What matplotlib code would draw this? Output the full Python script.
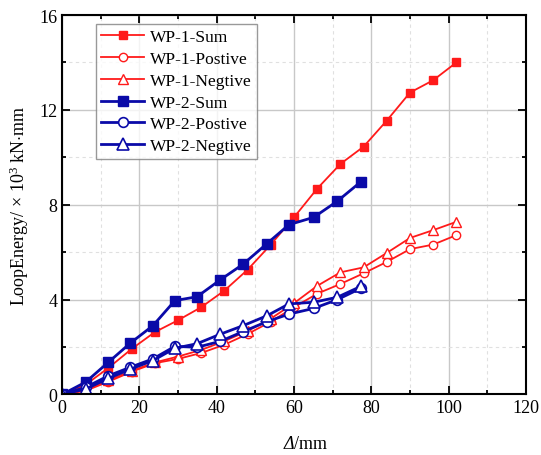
import matplotlib
matplotlib.use('Agg')
import matplotlib.pyplot as plt
from matplotlib.ticker import MultipleLocator

plt.rcParams['font.family'] = ['Liberation Serif', 'DejaVu Serif']
plt.rcParams['mathtext.fontset'] = 'custom'
plt.rcParams['mathtext.rm'] = 'Liberation Serif'
plt.rcParams['mathtext.it'] = 'Liberation Serif:italic'

# displacement steps (mm)
x1 = [0, 6, 12, 18, 24, 30, 36, 42, 48, 54, 60, 66, 72, 78, 84, 90, 96, 102]
x2 = [0, 6.1, 12, 17.7, 23.5, 29.2, 34.9, 40.9, 46.8, 53.0, 58.7, 65.1, 71.2, 77.3]

# loop energy (x10^3 kN*mm)
wp1_sum = [0, 0.4, 1.12, 1.92, 2.63, 3.13, 3.68, 4.38, 5.26, 6.32, 7.47, 8.68, 9.72, 10.45, 11.55, 12.73, 13.25, 14.0]
wp1_pos = [0, 0.15, 0.54, 0.96, 1.32, 1.5, 1.75, 2.1, 2.55, 3.07, 3.68, 4.25, 4.66, 5.11, 5.59, 6.13, 6.32, 6.72]
wp1_neg = [0, 0.2, 0.6, 1.0, 1.35, 1.6, 1.88, 2.25, 2.68, 3.2, 3.85, 4.58, 5.15, 5.36, 5.97, 6.6, 6.93, 7.28]

wp2_sum = [0, 0.52, 1.36, 2.17, 2.9, 3.96, 4.12, 4.83, 5.49, 6.36, 7.16, 7.47, 8.15, 8.97]
wp2_pos = [0, 0.3, 0.79, 1.15, 1.5, 2.03, 1.99, 2.24, 2.65, 3.07, 3.39, 3.63, 4.0, 4.48]
wp2_neg = [0, 0.23, 0.68, 1.07, 1.43, 1.95, 2.14, 2.54, 2.9, 3.32, 3.82, 3.89, 4.1, 4.56]

red = '#ff1a1a'
blue = '#0a0aa8'

fig = plt.figure(figsize=(5.41, 4.56), dpi=100)
ax = fig.add_axes([0.1146, 0.1327, 0.8577, 0.8322])

ax.plot(x1, wp1_sum, color=red, lw=1.3, marker='s', ms=6, mfc=red, mec=red, label='WP-1-Sum')
ax.plot(x1, wp1_pos, color=red, lw=1.3, marker='o', ms=6, mfc='white', mec=red, mew=1.0, label='WP-1-Postive')
ax.plot(x1, wp1_neg, color=red, lw=1.3, marker='^', ms=7, mfc='white', mec=red, mew=1.0, label='WP-1-Negtive')
ax.plot(x2, wp2_sum, color=blue, lw=2.0, marker='s', ms=7, mfc=blue, mec=blue, label='WP-2-Sum')
ax.plot(x2, wp2_pos, color=blue, lw=2.0, marker='o', ms=7, mfc='white', mec=blue, mew=1.2, label='WP-2-Postive')
ax.plot(x2, wp2_neg, color=blue, lw=2.0, marker='^', ms=8, mfc='white', mec=blue, mew=1.2, label='WP-2-Negtive')

ax.set_xlim(0, 120)
ax.set_ylim(0, 16)
ax.xaxis.set_major_locator(MultipleLocator(20))
ax.xaxis.set_minor_locator(MultipleLocator(10))
ax.yaxis.set_major_locator(MultipleLocator(4))
ax.yaxis.set_minor_locator(MultipleLocator(2))

ax.grid(which='major', color='#c8c8c8', lw=1.0, ls='-')
ax.grid(which='minor', color='#e0e0e0', lw=0.8, ls=(0, (3, 3)))
ax.set_axisbelow(True)

ax.tick_params(which='both', direction='in', top=True, right=True, labelsize=13, width=1.3)
ax.tick_params(which='major', length=6)
ax.tick_params(which='minor', length=3)
for s in ax.spines.values():
    s.set_linewidth(1.5)

# x label: italic delta followed by upright unit
ax.text(0.5, -0.128, 'Δ', transform=ax.transAxes, fontsize=13, style='italic',
        ha='right', va='center')
ax.text(0.5, -0.128, '/mm', transform=ax.transAxes, fontsize=13,
        ha='left', va='center')
ax.set_ylabel(r'LoopEnergy/ $\times$ 10$^3$ kN$\cdot$mm', fontsize=13, labelpad=6)

leg = ax.legend(loc='upper left', bbox_to_anchor=(0.073, 0.976), borderaxespad=0,
                fontsize=12.5, frameon=True, fancybox=False, handlelength=2.5,
                labelspacing=0.32, handletextpad=0.3, borderpad=0.3)
leg.get_frame().set_edgecolor('#808080')
leg.get_frame().set_linewidth(1.0)

fig.savefig('out.png', dpi=100)
